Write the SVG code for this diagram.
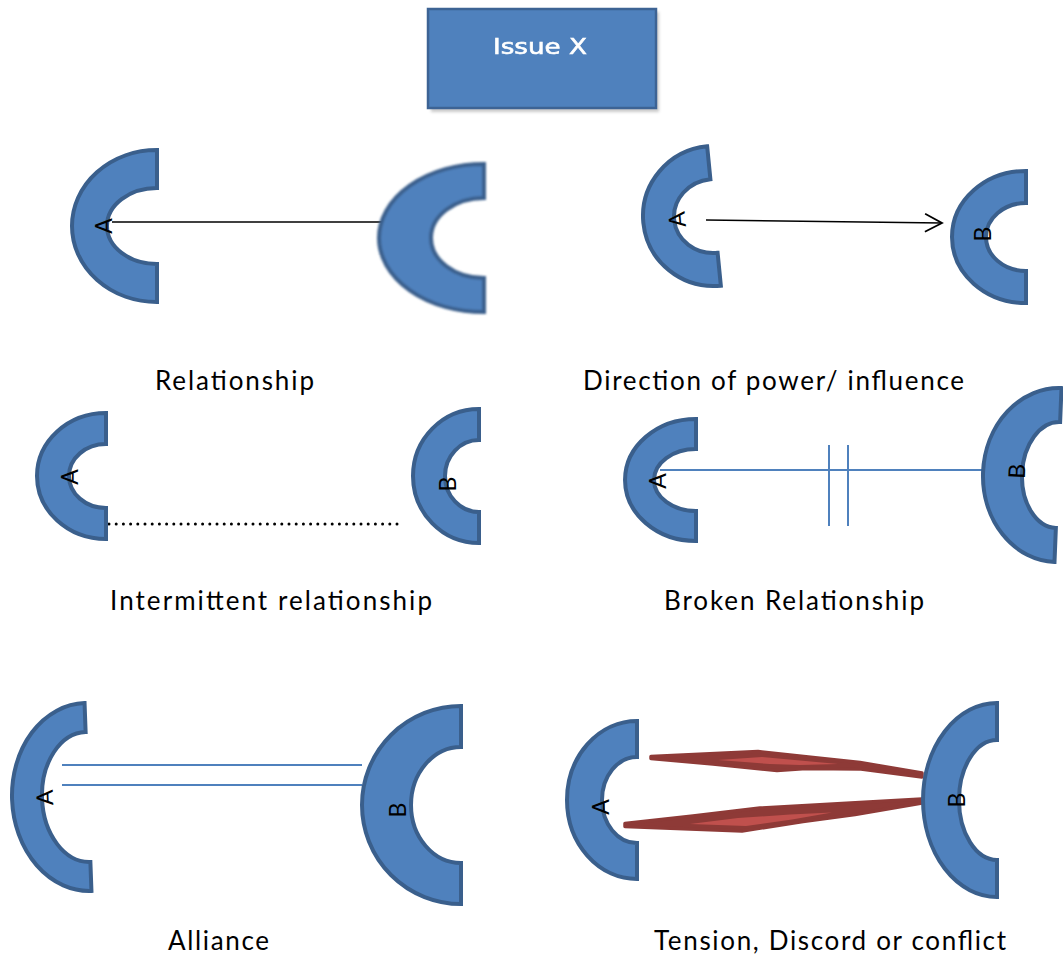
<svg xmlns="http://www.w3.org/2000/svg" width="1063" height="958" viewBox="0 0 1063 958">
  <style>
    .arc { fill: #4F81BD; stroke: #3A5F8C; stroke-width: 4; stroke-linejoin: miter; }
    .lbl { font-family: Lato, "Open Sans", sans-serif; font-size: 26px; fill: #000; }
    .tag { font-family: Lato, "Open Sans", sans-serif; font-size: 23px; fill: #000; text-anchor: middle; dominant-baseline: central; }
    .ln-black { stroke: #000; stroke-width: 1.6; fill: none; }
    .ln-blue { stroke: #4F81BD; stroke-width: 2; fill: none; }
    .bolt { fill: #8E3A37; stroke: #8E3A37; stroke-width: 3.5; stroke-linejoin: round; }
    .bolt-hi { fill: #C0504D; }
  </style>
  <defs>
    <filter id="soft" x="-10%" y="-10%" width="120%" height="120%">
      <feGaussianBlur stdDeviation="1.1"/>
    </filter>
    <filter id="softer" x="-10%" y="-10%" width="120%" height="120%">
      <feGaussianBlur stdDeviation="0.6"/>
    </filter>
    <filter id="shade" x="-10%" y="-10%" width="120%" height="130%">
      <feGaussianBlur stdDeviation="1.5"/>
    </filter>
    <marker id="open-arrow" viewBox="0 0 20 20" refX="18" refY="10" markerWidth="20" markerHeight="20" markerUnits="userSpaceOnUse" orient="auto">
      <path d="M 1,1 L 18,10 L 1,19" fill="none" stroke="#000" stroke-width="1.8"/>
    </marker>
  </defs>

  <rect width="1063" height="958" fill="#FFFFFF"/>

  <!-- Issue box -->
  <g id="issue-x">
    <rect x="431" y="12" width="228" height="100" fill="#8A8A8A" opacity="0.45" filter="url(#shade)"/>
    <g filter="url(#softer)">
      <rect x="428" y="9" width="228" height="99" fill="#4F81BD" stroke="#3C6494" stroke-width="2.5"/>
      <text x="493" y="54" font-family="'DejaVu Sans', Verdana, sans-serif" font-size="22" fill="#FFFFFF" stroke="#FFFFFF" stroke-width="0.6" textLength="94" lengthAdjust="spacingAndGlyphs">Issue X</text>
    </g>
  </g>

  <!-- Connectors -->
  <g id="connectors">
    <line class="ln-black" x1="112" y1="222" x2="424" y2="222"/>
    <line class="ln-black" x1="706" y1="220" x2="942" y2="223" marker-end="url(#open-arrow)"/>
    <line x1="109" y1="524" x2="398" y2="524" stroke="#000" stroke-width="3" stroke-linecap="round" stroke-dasharray="0 7.2"/>
    <line class="ln-blue" x1="660" y1="470" x2="982" y2="470" stroke-width="1.6"/>
    <line class="ln-blue" x1="829" y1="445" x2="829" y2="526" stroke-width="3"/>
    <line class="ln-blue" x1="848" y1="445" x2="848" y2="526" stroke-width="3"/>
    <line class="ln-blue" x1="62" y1="765" x2="362" y2="765"/>
    <line class="ln-blue" x1="62" y1="785" x2="362" y2="785"/>
    <!-- tension bolts -->
    <polygon class="bolt" points="651,756.5 758,751.5 813,757.5 860,762.5 922,773 922,777 861,769 806,768.5 777,770.5 713,764 651,758.5"/>
    <polygon class="bolt-hi" points="718,760 762,757 800,760.5 838,764 800,765 770,764"/>
    <polygon class="bolt" points="625,823.5 693,816 760,808 922,799 922,803 855,814.5 803,821.5 742,831 625,826.5"/>
    <polygon class="bolt-hi" points="690,824 738,818 790,814.5 832,812.5 792,819.5 746,826"/>
  </g>

  <!-- Relationship -->
  <g id="rel-a" transform="translate(157,226)">
    <path class="arc" d="M0,-76 A85,76 0 0 0 0,76 L0,38 A50,38 0 0 1 0,-38 Z"/>
    <text class="tag" transform="translate(-54,0) rotate(-90)">A</text>
  </g>
  <g id="rel-b" transform="translate(484,238)" filter="url(#soft)">
    <path class="arc" d="M0,-74 A105,74 0 0 0 0,74 L0,40 A53,40 0 0 1 0,-40 Z"/>
  </g>

  <!-- Direction of power -->
  <g id="dir-a" transform="translate(714,216) rotate(-5.6)">
    <path class="arc" d="M0,-70 A71,70 0 0 0 0,70 L0,37 A40,37 0 0 1 0,-37 Z"/>
    <text class="tag" transform="translate(-38,0) rotate(-90)">A</text>
  </g>
  <g id="dir-b" transform="translate(1026,237)">
    <path class="arc" d="M0,-66 A74,66 0 0 0 0,66 L0,34 A40,34 0 0 1 0,-34 Z"/>
    <text class="tag" transform="translate(-44,-3) rotate(-90)">B</text>
  </g>

  <!-- Intermittent relationship -->
  <g id="int-a" transform="translate(106,476)">
    <path class="arc" d="M0,-63 A69,63 0 0 0 0,63 L0,32 A37,32 0 0 1 0,-32 Z"/>
    <text class="tag" transform="translate(-37,1) rotate(-90)">A</text>
  </g>
  <g id="int-b" transform="translate(479,476)">
    <path class="arc" d="M0,-67 A66,67 0 0 0 0,67 L0,36 A34,36 0 0 1 0,-36 Z"/>
    <text class="tag" transform="translate(-32,8) rotate(-90)">B</text>
  </g>

  <!-- Broken relationship -->
  <g id="brk-a" transform="translate(696,480)">
    <path class="arc" d="M0,-61 A71,61 0 0 0 0,61 L0,31 A42,31 0 0 1 0,-31 Z"/>
    <text class="tag" transform="translate(-39,1) rotate(-90)">A</text>
  </g>
  <g id="brk-b" transform="translate(1058,475) rotate(2.3)">
    <path class="arc" d="M0,-87 A75,87 0 0 0 0,87 L0,53 A36,53 0 0 1 0,-53 Z"/>
    <text class="tag" transform="translate(-42,-2) rotate(-90)">B</text>
  </g>

  <!-- Alliance -->
  <g id="all-a" transform="translate(88,797) rotate(-2.1)">
    <path class="arc" d="M0,-94 A76,94 0 0 0 0,94 L0,65 A46,65 0 0 1 0,-65 Z"/>
    <text class="tag" transform="translate(-44,-1) rotate(-90)">A</text>
  </g>
  <g id="all-b" transform="translate(461,805)">
    <path class="arc" d="M0,-99 A99,99 0 0 0 0,99 L0,58 A50,58 0 0 1 0,-58 Z"/>
    <text class="tag" transform="translate(-64,5) rotate(-90)">B</text>
  </g>

  <!-- Tension, discord or conflict -->
  <g id="ten-a" transform="translate(637,800)">
    <path class="arc" d="M0,-79 A70,79 0 0 0 0,79 L0,43 A35,43 0 0 1 0,-43 Z"/>
    <text class="tag" transform="translate(-37,7) rotate(-90)">A</text>
  </g>
  <g id="ten-b" transform="translate(997,800)">
    <path class="arc" d="M0,-97 A74,97 0 0 0 0,97 L0,60 A38,60 0 0 1 0,-60 Z"/>
    <text class="tag" transform="translate(-41,0) rotate(-90)">B</text>
  </g>

  <!-- Captions -->
  <g id="captions">
    <text class="lbl" x="155" y="390" textLength="159" lengthAdjust="spacing">Relationship</text>
    <text class="lbl" x="583" y="390" textLength="381" lengthAdjust="spacing">Direction of power/ influence</text>
    <text class="lbl" x="110" y="610" textLength="322" lengthAdjust="spacing">Intermittent relationship</text>
    <text class="lbl" x="664" y="610" textLength="260" lengthAdjust="spacing">Broken Relationship</text>
    <text class="lbl" x="168" y="950" textLength="101" lengthAdjust="spacing">Alliance</text>
    <text class="lbl" x="654" y="950" textLength="352" lengthAdjust="spacing">Tension, Discord or conflict</text>
  </g>
</svg>
